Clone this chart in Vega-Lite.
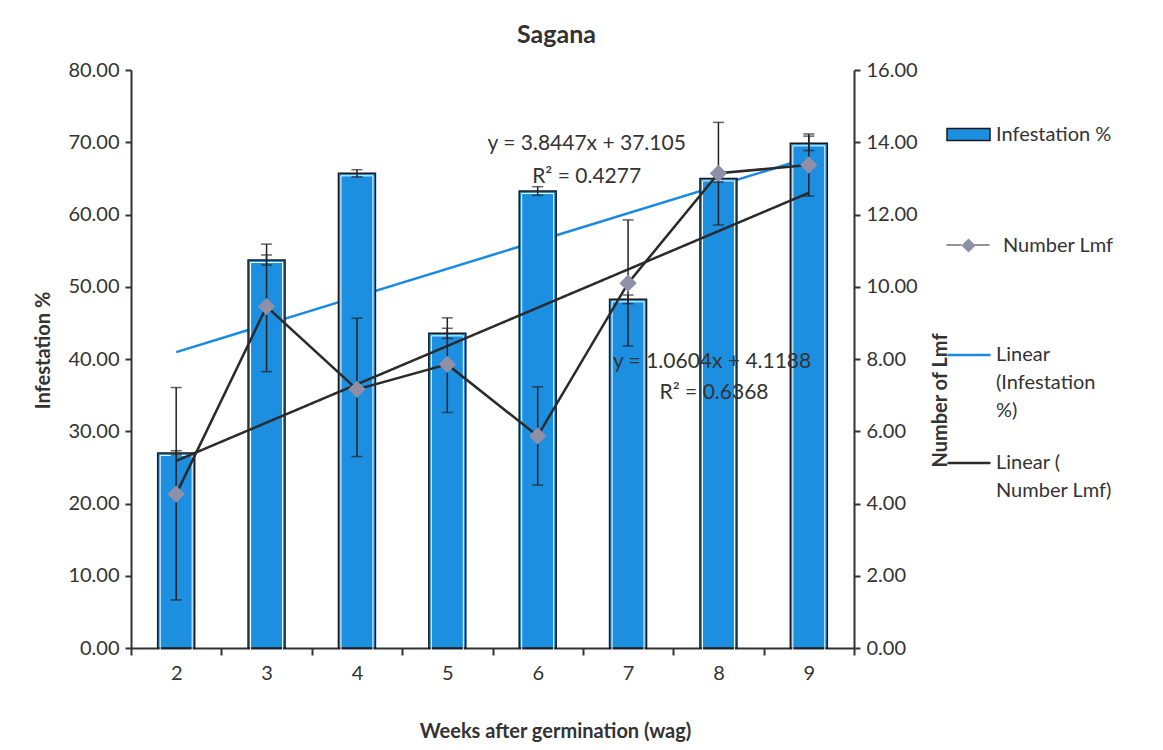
{
  "$schema": "https://vega.github.io/schema/vega-lite/v6.json",
  "width": 723,
  "height": 578,
  "autosize": {"type": "none"},
  "padding": {"left": 131, "top": 70, "right": 309, "bottom": 102},
  "background": "white",
  "config": {
    "font": "Lato",
    "view": {"stroke": null},
    "axis": {"labelFont": "Lato", "titleFont": "Lato", "labelColor": "#333", "titleColor": "#333", "domainColor": "#333", "tickColor": "#333", "domainWidth": 2, "tickWidth": 2, "grid": false, "labelFontSize": 20, "titleFontSize": 20, "titleFontWeight": "bold"},
    "legend": {"labelFont": "Lato", "labelFontSize": 20, "labelColor": "#333", "labelLimit": 300},
    "style": {"guide-label": {"lineHeight": 28}}
  },
  "title": {"text": "Sagana", "fontSize": 25, "fontWeight": "bold", "color": "#333", "anchor": "middle", "dx": 64, "offset": 12, "font": "Lato"},
  "datasets": {
    "main": [
      {"week": 2, "inf": 27.0, "infLo": 26.7, "infHi": 27.3, "lmf": 4.26, "lmfLo": 1.33, "lmfHi": 7.21},
      {"week": 3, "inf": 53.7, "infLo": 53.0, "infHi": 54.4, "lmf": 9.45, "lmfLo": 7.65, "lmfHi": 11.18},
      {"week": 4, "inf": 65.7, "infLo": 65.2, "infHi": 66.2, "lmf": 7.16, "lmfLo": 5.30, "lmfHi": 9.13},
      {"week": 5, "inf": 43.55, "infLo": 42.85, "infHi": 44.25, "lmf": 7.85, "lmfLo": 6.52, "lmfHi": 9.14},
      {"week": 6, "inf": 63.25, "infLo": 62.65, "infHi": 63.85, "lmf": 5.87, "lmfLo": 4.51, "lmfHi": 7.23},
      {"week": 7, "inf": 48.26, "infLo": 47.66, "infHi": 48.86, "lmf": 10.10, "lmfLo": 8.36, "lmfHi": 11.85},
      {"week": 8, "inf": 65.0, "infLo": 64.5, "infHi": 65.5, "lmf": 13.14, "lmfLo": 11.71, "lmfHi": 14.55},
      {"week": 9, "inf": 69.85, "infLo": 68.85, "infHi": 70.85, "lmf": 13.37, "lmfLo": 12.51, "lmfHi": 14.23}
    ],
    "trend": [
      {"week": 2, "infTrend": 40.95, "lmfTrend": 5.18},
      {"week": 9, "infTrend": 67.86, "lmfTrend": 12.60}
    ]
  },
  "layer": [
    {
      "layer": [
        {
          "data": {"name": "trend"},
          "mark": {"type": "line", "strokeWidth": 2.5},
          "encoding": {
            "x": {"field": "week", "type": "ordinal", "scale": {"domain": [2, 3, 4, 5, 6, 7, 8, 9], "paddingInner": 0, "paddingOuter": 0}, "axis": {"labelAngle": 0, "tickBand": "extent", "title": "Weeks after germination (wag)", "titleX": 424, "titleY": 83, "titleBaseline": "middle", "tickSize": 7, "labelPadding": 8}},
            "y": {"field": "infTrend", "type": "quantitative", "scale": {"domain": [0, 80]}, "axis": {"orient": "left", "values": [0, 10, 20, 30, 40, 50, 60, 70, 80], "format": ".2f", "title": "Infestation %", "titleX": -88, "titleY": 280, "titleAngle": 270, "titleBaseline": "middle", "titleAlign": "center", "tickSize": 6, "labelPadding": 6}},
            "stroke": {"datum": "Linear (Infestation %)", "scale": {"range": ["#1a8ae0"]}, "legend": {"orient": "none", "legendX": 815, "legendY": 262, "title": null, "symbolType": "stroke", "symbolSize": 1849, "symbolStrokeWidth": 2.5, "labelOffset": 4, "labelExpr": "['Linear', '(Infestation', '%)']"}}
          }
        },
        {
          "data": {"name": "main"},
          "mark": {"type": "bar", "width": 37, "stroke": "#1a1a1a", "strokeWidth": 1.5},
          "encoding": {
            "x": {"field": "week", "type": "ordinal", "axis": {"labelAngle": 0, "tickBand": "extent", "title": "Weeks after germination (wag)", "titleX": 424, "titleY": 83, "titleBaseline": "middle", "tickSize": 7, "labelPadding": 8}},
            "y": {"field": "inf", "type": "quantitative", "axis": {"orient": "left", "values": [0, 10, 20, 30, 40, 50, 60, 70, 80], "format": ".2f", "title": "Infestation %", "titleX": -88, "titleY": 280, "titleAngle": 270, "titleBaseline": "middle", "titleAlign": "center", "tickSize": 6, "labelPadding": 6}},
            "fill": {"datum": "Infestation %", "scale": {"range": ["#1d8fe1"]}, "legend": {"orient": "none", "legendX": 815, "legendY": 42, "title": null, "symbolType": "M-1,-0.28H1V0.28H-1Z", "symbolSize": 1849, "symbolStrokeColor": "#1a1a1a", "symbolStrokeWidth": 1.5, "labelOffset": 5}}
          }
        },
        {
          "data": {"name": "main"},
          "mark": {"type": "bar", "width": 32, "fill": null, "fillOpacity": 0, "stroke": "#ffffff", "strokeWidth": 1, "yOffset": 2.5, "y2Offset": -2.5},
          "encoding": {
            "x": {"field": "week", "type": "ordinal", "axis": {"labelAngle": 0, "tickBand": "extent", "title": "Weeks after germination (wag)", "titleX": 424, "titleY": 83, "titleBaseline": "middle", "tickSize": 7, "labelPadding": 8}},
            "y": {"field": "inf", "type": "quantitative", "axis": {"orient": "left", "values": [0, 10, 20, 30, 40, 50, 60, 70, 80], "format": ".2f", "title": "Infestation %", "titleX": -88, "titleY": 280, "titleAngle": 270, "titleBaseline": "middle", "titleAlign": "center", "tickSize": 6, "labelPadding": 6}}
          }
        },
        {
          "data": {"name": "main"},
          "mark": {"type": "rule", "color": "#222", "strokeWidth": 1.5},
          "encoding": {
            "x": {"field": "week", "type": "ordinal", "axis": {"labelAngle": 0, "tickBand": "extent", "title": "Weeks after germination (wag)", "titleX": 424, "titleY": 83, "titleBaseline": "middle", "tickSize": 7, "labelPadding": 8}},
            "y": {"field": "infLo", "type": "quantitative", "axis": {"orient": "left", "values": [0, 10, 20, 30, 40, 50, 60, 70, 80], "format": ".2f", "title": "Infestation %", "titleX": -88, "titleY": 280, "titleAngle": 270, "titleBaseline": "middle", "titleAlign": "center", "tickSize": 6, "labelPadding": 6}},
            "y2": {"field": "infHi"}
          }
        },
        {
          "data": {"name": "main"},
          "mark": {"type": "tick", "color": "#222", "size": 11, "thickness": 1.5},
          "encoding": {
            "x": {"field": "week", "type": "ordinal", "axis": {"labelAngle": 0, "tickBand": "extent", "title": "Weeks after germination (wag)", "titleX": 424, "titleY": 83, "titleBaseline": "middle", "tickSize": 7, "labelPadding": 8}},
            "y": {"field": "infLo", "type": "quantitative", "axis": {"orient": "left", "values": [0, 10, 20, 30, 40, 50, 60, 70, 80], "format": ".2f", "title": "Infestation %", "titleX": -88, "titleY": 280, "titleAngle": 270, "titleBaseline": "middle", "titleAlign": "center", "tickSize": 6, "labelPadding": 6}}
          }
        },
        {
          "data": {"name": "main"},
          "mark": {"type": "tick", "color": "#222", "size": 11, "thickness": 1.5},
          "encoding": {
            "x": {"field": "week", "type": "ordinal", "axis": {"labelAngle": 0, "tickBand": "extent", "title": "Weeks after germination (wag)", "titleX": 424, "titleY": 83, "titleBaseline": "middle", "tickSize": 7, "labelPadding": 8}},
            "y": {"field": "infHi", "type": "quantitative", "axis": {"orient": "left", "values": [0, 10, 20, 30, 40, 50, 60, 70, 80], "format": ".2f", "title": "Infestation %", "titleX": -88, "titleY": 280, "titleAngle": 270, "titleBaseline": "middle", "titleAlign": "center", "tickSize": 6, "labelPadding": 6}}
          }
        },
        {
          "data": {"values": [
            {"label": "y = 3.8447x + 37.105", "wk": 6, "val": 69.76},
            {"label": "R² = 0.4277", "wk": 6, "val": 65.19}
          ]},
          "mark": {"type": "text", "fontSize": 21, "color": "#333", "dx": 49, "baseline": "middle"},
          "encoding": {
            "x": {"field": "wk", "type": "ordinal", "axis": {"labelAngle": 0, "tickBand": "extent", "title": "Weeks after germination (wag)", "titleX": 424, "titleY": 83, "titleBaseline": "middle", "tickSize": 7, "labelPadding": 8}},
            "y": {"field": "val", "type": "quantitative", "axis": {"orient": "left", "values": [0, 10, 20, 30, 40, 50, 60, 70, 80], "format": ".2f", "title": "Infestation %", "titleX": -88, "titleY": 280, "titleAngle": 270, "titleBaseline": "middle", "titleAlign": "center", "tickSize": 6, "labelPadding": 6}},
            "text": {"field": "label"}
          }
        },
        {
          "data": {"values": [
            {"label": "y = 1.0604x + 4.1188", "wk": 7, "val": 39.58}
          ]},
          "mark": {"type": "text", "fontSize": 21, "color": "#333", "dx": 84, "baseline": "middle"},
          "encoding": {
            "x": {"field": "wk", "type": "ordinal", "axis": {"labelAngle": 0, "tickBand": "extent", "title": "Weeks after germination (wag)", "titleX": 424, "titleY": 83, "titleBaseline": "middle", "tickSize": 7, "labelPadding": 8}},
            "y": {"field": "val", "type": "quantitative", "axis": {"orient": "left", "values": [0, 10, 20, 30, 40, 50, 60, 70, 80], "format": ".2f", "title": "Infestation %", "titleX": -88, "titleY": 280, "titleAngle": 270, "titleBaseline": "middle", "titleAlign": "center", "tickSize": 6, "labelPadding": 6}},
            "text": {"field": "label"}
          }
        },
        {
          "data": {"values": [
            {"label": "R² = 0.6368", "wk": 7, "val": 35.29}
          ]},
          "mark": {"type": "text", "fontSize": 21, "color": "#333", "dx": 86, "baseline": "middle"},
          "encoding": {
            "x": {"field": "wk", "type": "ordinal", "axis": {"labelAngle": 0, "tickBand": "extent", "title": "Weeks after germination (wag)", "titleX": 424, "titleY": 83, "titleBaseline": "middle", "tickSize": 7, "labelPadding": 8}},
            "y": {"field": "val", "type": "quantitative", "axis": {"orient": "left", "values": [0, 10, 20, 30, 40, 50, 60, 70, 80], "format": ".2f", "title": "Infestation %", "titleX": -88, "titleY": 280, "titleAngle": 270, "titleBaseline": "middle", "titleAlign": "center", "tickSize": 6, "labelPadding": 6}},
            "text": {"field": "label"}
          }
        }
      ]
    },
    {
      "layer": [
        {
          "data": {"name": "trend"},
          "mark": {"type": "line", "strokeWidth": 2.5, "color": "#2a2a2a"},
          "encoding": {
            "x": {"field": "week", "type": "ordinal", "axis": {"labelAngle": 0, "tickBand": "extent", "title": "Weeks after germination (wag)", "titleX": 424, "titleY": 83, "titleBaseline": "middle", "tickSize": 7, "labelPadding": 8}},
            "y": {"field": "lmfTrend", "type": "quantitative", "scale": {"domain": [0, 16]}, "axis": {"orient": "right", "values": [0, 2, 4, 6, 8, 10, 12, 14, 16], "format": ".2f", "title": "Number of Lmf", "titleX": 86, "titleY": 330, "titleAngle": 270, "titleBaseline": "middle", "titleAlign": "center", "tickSize": 6, "labelPadding": 6}},
            "strokeDash": {"datum": "Linear ( Number Lmf)", "scale": {"range": [[1, 0]]}, "legend": {"orient": "none", "legendX": 815, "legendY": 370, "title": null, "symbolType": "stroke", "symbolSize": 1849, "symbolStrokeWidth": 2.5, "symbolStrokeColor": "#2a2a2a", "labelOffset": 4, "labelExpr": "['Linear (', 'Number Lmf)']"}}
          }
        },
        {
          "data": {"name": "main"},
          "mark": {"type": "line", "strokeWidth": 2.5, "color": "#2a2a2a"},
          "encoding": {
            "x": {"field": "week", "type": "ordinal", "axis": {"labelAngle": 0, "tickBand": "extent", "title": "Weeks after germination (wag)", "titleX": 424, "titleY": 83, "titleBaseline": "middle", "tickSize": 7, "labelPadding": 8}},
            "y": {"field": "lmf", "type": "quantitative", "axis": {"orient": "right", "values": [0, 2, 4, 6, 8, 10, 12, 14, 16], "format": ".2f", "title": "Number of Lmf", "titleX": 86, "titleY": 330, "titleAngle": 270, "titleBaseline": "middle", "titleAlign": "center", "tickSize": 6, "labelPadding": 6}},
            "strokeWidth": {"datum": "Lmf line", "type": "ordinal", "scale": {"range": [2.5]}, "legend": {"orient": "none", "legendX": 837, "legendY": 175, "title": null, "symbolType": "M-1,0H-0.3M0.3,0H1", "symbolSize": 1849, "symbolStrokeColor": "#2a2a2a", "symbolStrokeWidth": 2.5, "labelOffset": 12, "labelExpr": "''"}}
          }
        },
        {
          "data": {"name": "main"},
          "mark": {"type": "rule", "color": "#222", "strokeWidth": 1.5},
          "encoding": {
            "x": {"field": "week", "type": "ordinal", "axis": {"labelAngle": 0, "tickBand": "extent", "title": "Weeks after germination (wag)", "titleX": 424, "titleY": 83, "titleBaseline": "middle", "tickSize": 7, "labelPadding": 8}},
            "y": {"field": "lmfLo", "type": "quantitative", "axis": {"orient": "right", "values": [0, 2, 4, 6, 8, 10, 12, 14, 16], "format": ".2f", "title": "Number of Lmf", "titleX": 86, "titleY": 330, "titleAngle": 270, "titleBaseline": "middle", "titleAlign": "center", "tickSize": 6, "labelPadding": 6}},
            "y2": {"field": "lmfHi"}
          }
        },
        {
          "data": {"name": "main"},
          "mark": {"type": "tick", "color": "#222", "size": 11, "thickness": 1.5},
          "encoding": {
            "x": {"field": "week", "type": "ordinal", "axis": {"labelAngle": 0, "tickBand": "extent", "title": "Weeks after germination (wag)", "titleX": 424, "titleY": 83, "titleBaseline": "middle", "tickSize": 7, "labelPadding": 8}},
            "y": {"field": "lmfLo", "type": "quantitative", "axis": {"orient": "right", "values": [0, 2, 4, 6, 8, 10, 12, 14, 16], "format": ".2f", "title": "Number of Lmf", "titleX": 86, "titleY": 330, "titleAngle": 270, "titleBaseline": "middle", "titleAlign": "center", "tickSize": 6, "labelPadding": 6}}
          }
        },
        {
          "data": {"name": "main"},
          "mark": {"type": "tick", "color": "#222", "size": 11, "thickness": 1.5},
          "encoding": {
            "x": {"field": "week", "type": "ordinal", "axis": {"labelAngle": 0, "tickBand": "extent", "title": "Weeks after germination (wag)", "titleX": 424, "titleY": 83, "titleBaseline": "middle", "tickSize": 7, "labelPadding": 8}},
            "y": {"field": "lmfHi", "type": "quantitative", "axis": {"orient": "right", "values": [0, 2, 4, 6, 8, 10, 12, 14, 16], "format": ".2f", "title": "Number of Lmf", "titleX": 86, "titleY": 330, "titleAngle": 270, "titleBaseline": "middle", "titleAlign": "center", "tickSize": 6, "labelPadding": 6}}
          }
        },
        {
          "data": {"name": "main"},
          "mark": {"type": "point", "shape": "diamond", "filled": true, "size": 300, "color": "#8f8fa8", "opacity": 1},
          "encoding": {
            "x": {"field": "week", "type": "ordinal", "axis": {"labelAngle": 0, "tickBand": "extent", "title": "Weeks after germination (wag)", "titleX": 424, "titleY": 83, "titleBaseline": "middle", "tickSize": 7, "labelPadding": 8}},
            "y": {"field": "lmf", "type": "quantitative", "axis": {"orient": "right", "values": [0, 2, 4, 6, 8, 10, 12, 14, 16], "format": ".2f", "title": "Number of Lmf", "titleX": 86, "titleY": 330, "titleAngle": 270, "titleBaseline": "middle", "titleAlign": "center", "tickSize": 6, "labelPadding": 6}},
            "opacity": {"datum": "Number Lmf", "type": "ordinal", "scale": {"range": [1]}, "legend": {"orient": "none", "legendX": 815, "legendY": 153, "title": null, "symbolType": "M0,-0.33L0.33,0L0,0.33L-0.33,0Z", "symbolSize": 1849, "symbolFillColor": "#8f8fa8", "labelOffset": 12}}
          }
        }
      ]
    }
  ],
  "resolve": {"scale": {"y": "independent"}}
}
